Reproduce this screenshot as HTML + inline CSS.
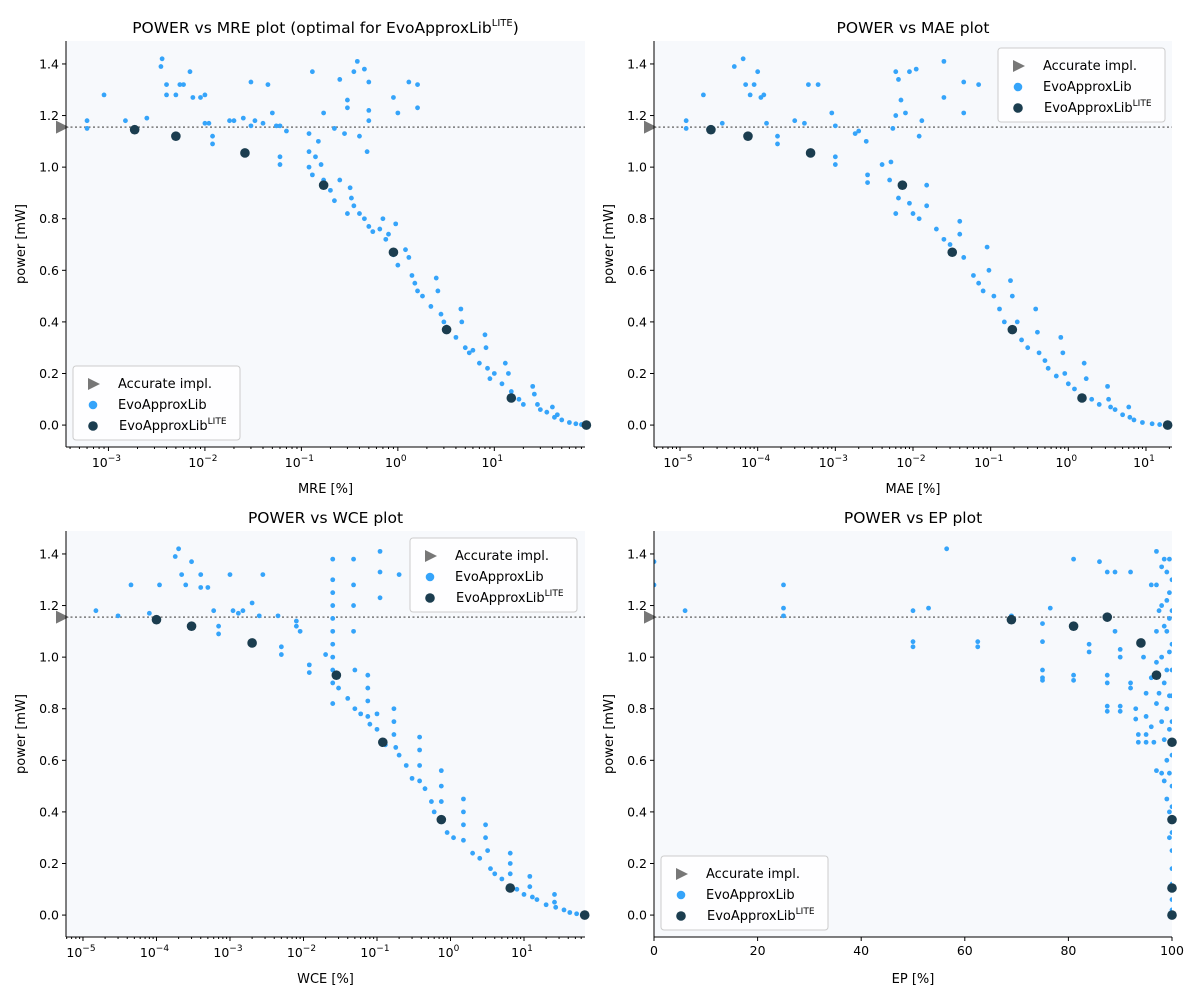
<!DOCTYPE html>
<html><head><meta charset="utf-8"><style>
body{margin:0;background:#fff}
svg{font-family:"DejaVu Sans","Liberation Sans",sans-serif}
</style></head><body>
<svg id="chart" width="1200" height="1000" xmlns="http://www.w3.org/2000/svg"></svg>
<script>
const mrePts=[[0.0006,1.18],[0.0006,1.15],[0.0009,1.28],[0.0015,1.18],[0.0025,1.19],[0.0035,1.39],[0.0036,1.42],[0.004,1.32],[0.004,1.28],[0.005,1.28],[0.0055,1.32],[0.006,1.32],[0.007,1.37],[0.0075,1.27],[0.009,1.27],[0.01,1.28],[0.01,1.17],[0.011,1.17],[0.012,1.12],[0.012,1.09],[0.018,1.18],[0.02,1.18],[0.025,1.19],[0.03,1.16],[0.03,1.33],[0.033,1.18],[0.04,1.17],[0.045,1.32],[0.05,1.21],[0.055,1.16],[0.06,1.16],[0.06,1.04],[0.06,1.01],[0.07,1.14],[0.12,1.13],[0.13,1.37],[0.15,1.1],[0.17,1.21],[0.25,1.34],[0.3,1.26],[0.3,1.23],[0.35,1.37],[0.38,1.41],[0.45,1.38],[0.5,1.33],[0.5,1.22],[0.5,1.18],[0.48,1.06],[0.9,1.27],[1.0,1.21],[1.3,1.33],[1.6,1.32],[1.6,1.23],[0.4,1.12],[0.22,1.15],[0.28,1.13],[0.12,1.06],[0.12,1.0],[0.13,0.97],[0.14,1.04],[0.16,1.01],[0.17,0.95],[0.2,0.91],[0.22,0.87],[0.25,0.95],[0.3,0.82],[0.32,0.92],[0.33,0.88],[0.35,0.85],[0.4,0.82],[0.45,0.8],[0.5,0.77],[0.55,0.75],[0.65,0.76],[0.7,0.8],[0.75,0.72],[0.8,0.74],[0.9,0.66],[0.95,0.78],[1.0,0.62],[1.2,0.68],[1.3,0.65],[1.4,0.58],[1.5,0.55],[1.6,0.52],[1.8,0.5],[2.2,0.46],[2.5,0.57],[2.6,0.52],[2.8,0.43],[3.0,0.4],[3.2,0.38],[4,0.34],[4.5,0.45],[4.6,0.4],[5,0.3],[5.5,0.28],[6,0.29],[7,0.24],[8,0.35],[8.2,0.3],[8.5,0.22],[9,0.18],[10,0.2],[12,0.16],[13,0.24],[14,0.2],[15,0.13],[18,0.1],[20,0.08],[25,0.15],[26,0.12],[28,0.08],[30,0.06],[35,0.05],[40,0.07],[42,0.03],[45,0.04],[50,0.02],[60,0.01],[70,0.005],[80,0.002]];
const mreLite=[[0.00187,1.145],[0.005,1.12],[0.026,1.055],[0.17,0.93],[0.9,0.67],[3.2,0.37],[15,0.105],[90,0.0]];
const maePts=[[1.2e-5,1.18],[1.2e-5,1.15],[2e-5,1.28],[3.5e-5,1.17],[5e-5,1.39],[6.5e-5,1.42],[7e-5,1.32],[8e-5,1.28],[9e-5,1.32],[0.0001,1.37],[0.00011,1.27],[0.00012,1.28],[0.00013,1.17],[0.00018,1.12],[0.00018,1.09],[0.0003,1.18],[0.0004,1.17],[0.00045,1.32],[0.0006,1.32],[0.0009,1.21],[0.001,1.16],[0.001,1.04],[0.001,1.01],[0.0018,1.13],[0.002,1.14],[0.0025,1.1],[0.0026,0.97],[0.0026,0.94],[0.004,1.01],[0.005,0.95],[0.006,1.37],[0.006,1.2],[0.0065,1.34],[0.007,1.26],[0.008,1.21],[0.009,1.37],[0.011,1.38],[0.012,1.12],[0.013,1.18],[0.025,1.41],[0.025,1.27],[0.045,1.33],[0.045,1.21],[0.07,1.32],[0.0055,1.15],[0.0052,1.02],[0.006,0.82],[0.0065,0.88],[0.009,0.86],[0.01,0.82],[0.012,0.8],[0.015,0.93],[0.015,0.85],[0.02,0.76],[0.025,0.72],[0.03,0.7],[0.04,0.79],[0.04,0.74],[0.045,0.65],[0.06,0.58],[0.07,0.55],[0.08,0.52],[0.09,0.69],[0.095,0.6],[0.11,0.5],[0.13,0.45],[0.15,0.4],[0.18,0.56],[0.19,0.5],[0.22,0.4],[0.25,0.33],[0.3,0.3],[0.38,0.45],[0.4,0.36],[0.42,0.28],[0.5,0.25],[0.55,0.22],[0.7,0.19],[0.8,0.34],[0.85,0.28],[0.9,0.2],[1.0,0.16],[1.2,0.14],[1.6,0.24],[1.7,0.18],[2,0.1],[2.5,0.08],[3.2,0.15],[3.3,0.1],[3.5,0.07],[4,0.06],[5,0.04],[6,0.07],[6.2,0.03],[7,0.02],[9,0.01],[12,0.005],[15,0.002]];
const maeLite=[[2.5e-5,1.145],[7.5e-5,1.12],[0.00048,1.055],[0.0073,0.93],[0.032,0.67],[0.19,0.37],[1.5,0.105],[19,0.0]];
const wcePts=[[1.5e-5,1.18],[3e-5,1.16],[4.5e-5,1.28],[8e-5,1.17],[0.00011,1.28],[0.00018,1.39],[0.0002,1.42],[0.00022,1.32],[0.00025,1.28],[0.0003,1.37],[0.0004,1.32],[0.0004,1.27],[0.0005,1.27],[0.0006,1.18],[0.0007,1.12],[0.0007,1.09],[0.001,1.32],[0.0011,1.18],[0.0013,1.17],[0.0015,1.18],[0.002,1.21],[0.0025,1.16],[0.0028,1.32],[0.0045,1.16],[0.005,1.04],[0.005,1.01],[0.008,1.14],[0.008,1.12],[0.009,1.1],[0.012,0.97],[0.012,0.94],[0.02,1.01],[0.025,1.38],[0.025,1.3],[0.025,1.25],[0.025,1.2],[0.025,1.15],[0.025,1.1],[0.025,1.05],[0.025,1.0],[0.025,0.95],[0.025,0.9],[0.025,0.82],[0.03,0.88],[0.04,0.84],[0.048,1.38],[0.048,1.28],[0.048,1.2],[0.048,1.1],[0.05,0.95],[0.05,0.8],[0.06,0.78],[0.075,0.93],[0.075,0.88],[0.075,0.83],[0.075,0.77],[0.08,0.74],[0.1,0.78],[0.11,1.41],[0.11,1.33],[0.11,1.23],[0.1,0.72],[0.13,0.66],[0.17,0.8],[0.17,0.75],[0.17,0.7],[0.18,0.65],[0.2,1.32],[0.2,0.62],[0.25,0.58],[0.3,0.53],[0.38,0.69],[0.38,0.64],[0.38,0.58],[0.38,0.52],[0.45,0.49],[0.55,0.44],[0.6,0.4],[0.75,0.56],[0.75,0.5],[0.75,0.44],[0.9,0.32],[1.1,0.3],[1.5,0.45],[1.5,0.4],[1.5,0.35],[1.5,0.29],[2,0.24],[2.5,0.22],[3,0.35],[3,0.3],[3.2,0.25],[3.5,0.18],[4,0.16],[5,0.14],[6.5,0.24],[6.5,0.2],[6.5,0.16],[8,0.1],[10,0.08],[12,0.15],[12,0.11],[13,0.07],[15,0.06],[20,0.04],[26,0.08],[26,0.05],[27,0.03],[35,0.02],[42,0.01],[52,0.005],[62,0.002]];
const wceLite=[[1e-4,1.145],[3e-4,1.12],[0.002,1.055],[0.028,0.93],[0.12,0.67],[0.75,0.37],[6.5,0.105],[67,0.0]];
const epPts=[[0,1.37],[0,1.28],[6,1.18],[25,1.28],[25,1.19],[25,1.16],[50,1.18],[50,1.06],[50,1.04],[53,1.19],[56.5,1.42],[62.5,1.06],[62.5,1.04],[69,1.16],[75,1.13],[75,1.06],[75,0.95],[75,0.92],[75,0.91],[76.5,1.19],[81,1.38],[81,0.93],[81,0.91],[84,1.05],[84,1.02],[86,1.37],[87.5,1.33],[87.5,0.93],[87.5,0.9],[87.5,0.81],[87.5,0.79],[89,1.33],[89,1.1],[90,1.03],[90,1.0],[90,0.81],[90,0.79],[92,1.33],[92,0.9],[92,0.88],[93,0.8],[93,0.76],[93.5,0.7],[93.5,0.67],[94,1.05],[94.5,1.0],[95,0.86],[95,0.77],[95,0.7],[95,0.67],[96,1.28],[96,0.92],[96,0.73],[96.5,0.67],[97,1.41],[97,1.28],[97,1.1],[97,0.98],[97,0.82],[97,0.56],[97.5,1.18],[97.5,0.86],[98,1.35],[98,1.2],[98,1.0],[98,0.75],[98,0.55],[98.5,1.38],[98.5,1.12],[98.5,0.9],[98.5,0.68],[98.5,0.52],[99,1.33],[99,1.22],[99,1.1],[99,0.95],[99,0.8],[99,0.6],[99,0.45],[99.5,1.38],[99.5,1.25],[99.5,1.15],[99.5,1.02],[99.5,0.85],[99.5,0.72],[99.5,0.55],[99.5,0.4],[99.5,0.3],[100,1.3],[100,1.18],[100,1.05],[100,0.95],[100,0.85],[100,0.75],[100,0.62],[100,0.5],[100,0.42],[100,0.32],[100,0.25],[100,0.18],[100,0.12],[100,0.06],[100,0.02]];
const epLite=[[69,1.145],[81,1.12],[87.5,1.155],[94,1.055],[97,0.93],[100,0.67],[100,0.37],[100,0.105],[100,0.0]];
const accuratePower=1.155;
const yTicks=[0,0.2,0.4,0.6,0.8,1.0,1.2,1.4];
const epTicks=[0,20,40,60,80,100];

const NS='http://www.w3.org/2000/svg';
const svg=document.getElementById('chart');
function mk(tag,attrs,parent){const e=document.createElementNS(NS,tag);for(const k in attrs)e.setAttribute(k,attrs[k]);(parent||svg).appendChild(e);return e;}
const BLUE='#35a4fa',DARK='#1b3d4f';

function panel(o){
  const g=mk('g',{});
  
  
  const Y0=-0.085,Y1=1.489;
  const ys=v=>o.y1-(v-Y0)/(Y1-Y0)*(o.y1-o.y0);
  const xs=o.log?(v=>o.x0+(Math.log10(v)-o.lmin)/(o.lmax-o.lmin)*(o.x1-o.x0)):(v=>o.x0+(v-0)/100*(o.x1-o.x0));
  const bg=mk('rect',{x:o.x0,y:o.y0,width:o.x1-o.x0,height:o.y1-o.y0,fill:'#f7f9fc'},g);
  
  
  const cp='cp'+o.id;
  const cl=mk('clipPath',{id:cp},g);mk('rect',{x:o.x0,y:o.y0,width:o.x1-o.x0,height:o.y1-o.y0},cl);
  const ln=mk('line',{x1:o.x0,x2:o.x1,y1:ys(accuratePower),y2:ys(accuratePower),stroke:'#777','stroke-width':1.5,'stroke-dasharray':'2,2.5'},g);
  
  
  const pg=mk('g',{'clip-path':'url(#'+cp+')'},g);
  o.pts.forEach(p=>{const c=mk('circle',{cx:xs(p[0]),cy:ys(p[1]),r:2.4,fill:BLUE},pg);
    
    });
  const lg=mk('g',{},g);
  o.lite.forEach(p=>{const c=mk('circle',{cx:xs(p[0]),cy:ys(p[1]),r:4.8,fill:DARK},lg);
    
    });
  const tx=o.x0-4,ty=ys(accuratePower);
  const tri=mk('path',{d:`M${tx-6},${ty-6.5}L${tx+7},${ty}L${tx-6},${ty+6.5}Z`,fill:'#777'},g);
  
  
  mk('line',{x1:o.x0,x2:o.x0,y1:o.y0,y2:o.y1,stroke:'#000','stroke-width':1},g);
  mk('line',{x1:o.x0,x2:o.x1,y1:o.y1,y2:o.y1,stroke:'#000','stroke-width':1},g);
  yTicks.forEach(v=>{const y=ys(v);mk('line',{x1:o.x0-4,x2:o.x0,y1:y,y2:y,stroke:'#000'},g);
    const t=mk('text',{x:o.x0-7,y:y+4.5,'text-anchor':'end','font-size':12.5},g);t.textContent=v.toFixed(1);
    
    });
  if(o.log){
    for(let d=Math.floor(o.lmin);d<=Math.ceil(o.lmax);d++){
      for(let m=1;m<10;m++){const lv=d+Math.log10(m);if(lv<o.lmin||lv>o.lmax)continue;const x=xs(Math.pow(10,lv));
        mk('line',{x1:x,x2:x,y1:o.y1,y2:o.y1+(m==1?4:2),stroke:'#000'},g);
        if(m==1){const t=mk('text',{x:x-2,y:o.y1+20,'text-anchor':'middle','font-size':12.5},g);
          
          
          const a=mk('tspan',{},t);a.textContent='10';
          const b=mk('tspan',{dy:-6,'font-size':9},t);b.textContent=(d<0?'\u2212':'')+Math.abs(d);}
      }}
  } else {
    epTicks.forEach(v=>{const x=xs(v);mk('line',{x1:x,x2:x,y1:o.y1,y2:o.y1+4,stroke:'#000'},g);
      const t=mk('text',{x:x,y:o.y1+18,'text-anchor':'middle','font-size':12.5},g);t.textContent=v;
      
      });
  }
  const xl=mk('text',{x:(o.x0+o.x1)/2,y:o.y1+46,'text-anchor':'middle','font-size':13},g);xl.textContent=o.xlabel;
  
  
  const yl=mk('text',{x:0,y:0,'text-anchor':'middle','font-size':13,transform:`translate(${o.x0-41},${(o.y0+o.y1)/2}) rotate(-90)`},g);yl.textContent='power [mW]';
  
  
  const ti=mk('text',{x:(o.x0+o.x1)/2,y:o.y0-8,'text-anchor':'middle','font-size':15.5},g);
  
  
  const t1=mk('tspan',{},ti);t1.textContent=o.title;
  if(o.id==1){const s=mk('tspan',{dy:-7,'font-size':10},ti);s.textContent='LITE';const e=mk('tspan',{dy:7},ti);e.textContent=')';}
  const L=mk('g',{},g);
  
  
  mk('rect',{x:o.lx,y:o.ly,width:167,height:74,rx:3,fill:'#fff','fill-opacity':0.85,stroke:'#ccc'},L);
  const ex=o.lx+20;
  mk('path',{d:`M${ex-5},${o.ly+12}L${ex+7},${o.ly+18}L${ex-5},${o.ly+24}Z`,fill:'#777'},L);
  mk('circle',{cx:ex,cy:o.ly+39,r:4.3,fill:BLUE},L);
  mk('circle',{cx:ex,cy:o.ly+60,r:4.8,fill:DARK},L);
  const e1=mk('text',{x:o.lx+45,y:o.ly+22,'font-size':13},L);e1.textContent='Accurate impl.';
  const e2=mk('text',{x:o.lx+45,y:o.ly+43,'font-size':13},L);e2.textContent='EvoApproxLib';
  const e3=mk('text',{x:o.lx+46,y:o.ly+64,'font-size':13},L);
  const a3=mk('tspan',{},e3);a3.textContent='EvoApproxLib';
  const b3=mk('tspan',{dy:-6,'font-size':9},e3);b3.textContent='LITE';
  [e1,e2,e3].forEach(e=>{});
}
panel({id:1,name:'mre-panel',x0:66,x1:585,y0:41,y1:447,log:true,lmin:-3.44,lmax:1.94,pts:mrePts,lite:mreLite,xlabel:'MRE [%]',title:'POWER vs MRE plot (optimal for EvoApproxLib',lx:73,ly:366});
panel({id:2,name:'mae-panel',x0:654,x1:1172,y0:41,y1:447,log:true,lmin:-5.335,lmax:1.335,pts:maePts,lite:maeLite,xlabel:'MAE [%]',title:'POWER vs MAE plot',lx:998,ly:48});
panel({id:3,name:'wce-panel',x0:66,x1:585,y0:531,y1:937,log:true,lmin:-5.231,lmax:1.83,pts:wcePts,lite:wceLite,xlabel:'WCE [%]',title:'POWER vs WCE plot',lx:410,ly:538});
panel({id:4,name:'ep-panel',x0:654,x1:1172,y0:531,y1:937,log:false,pts:epPts,lite:epLite,xlabel:'EP [%]',title:'POWER vs EP plot',lx:661,ly:856});
</script>
</body></html>
